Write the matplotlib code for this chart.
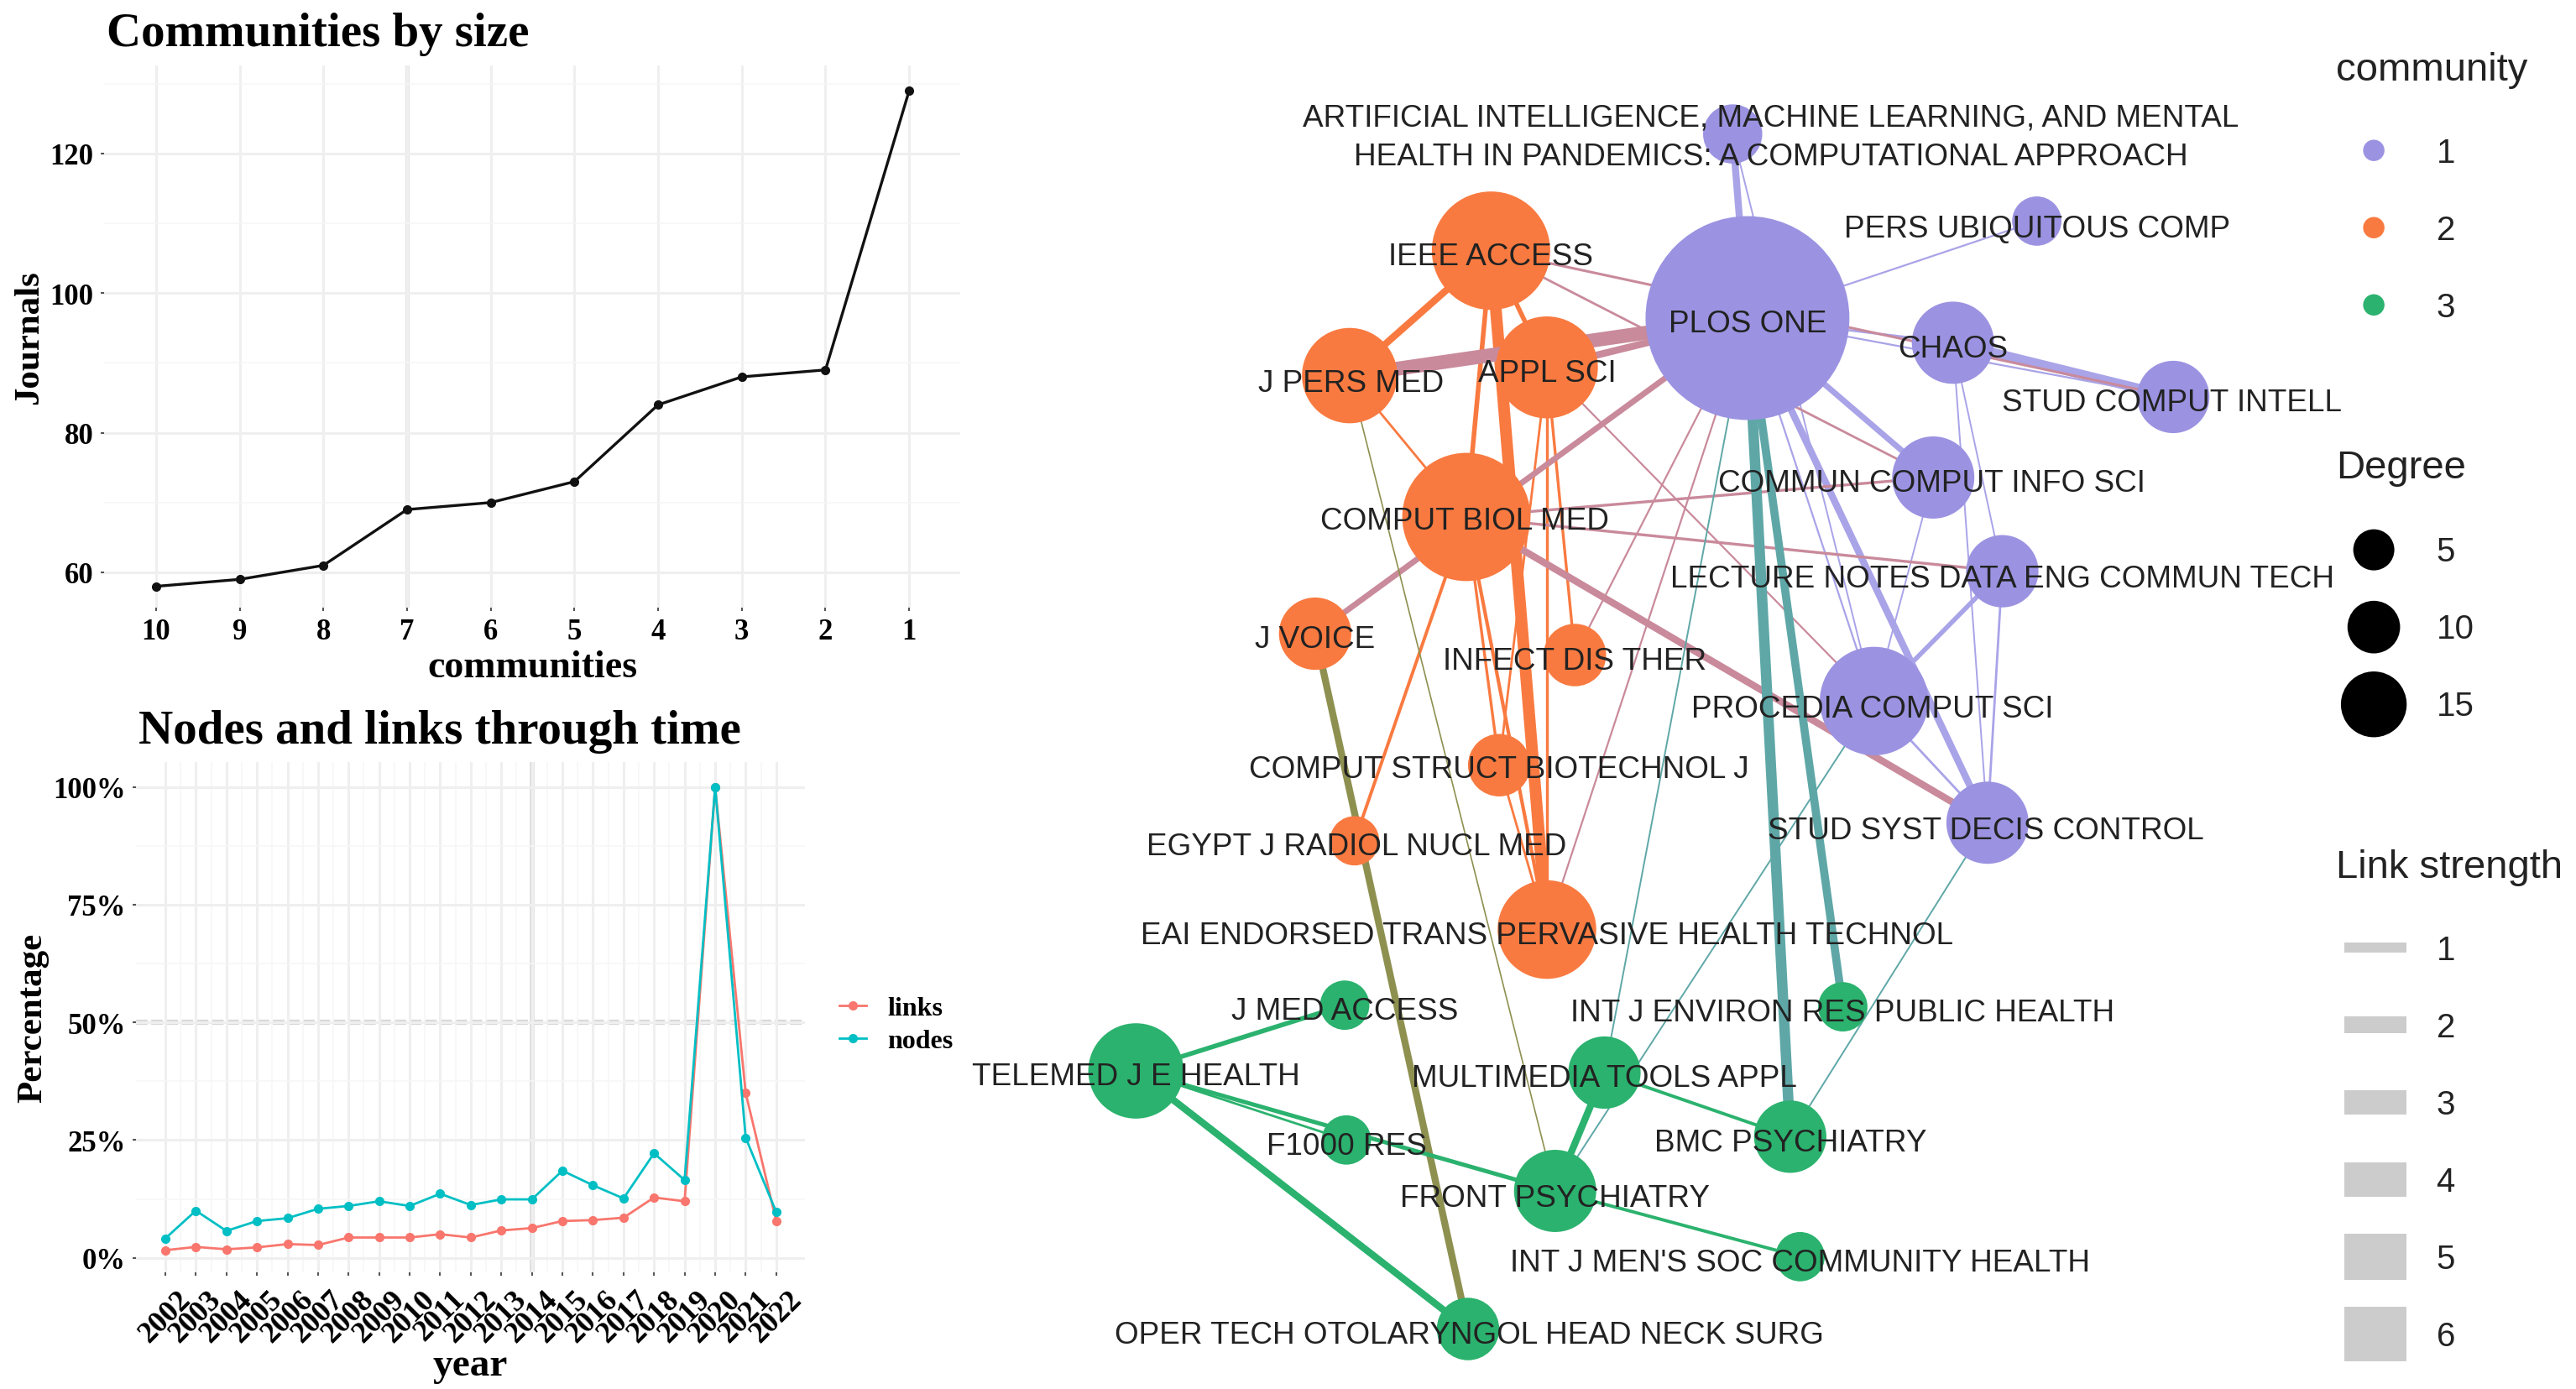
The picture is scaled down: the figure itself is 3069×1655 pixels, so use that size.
import matplotlib
matplotlib.use("Agg")
import matplotlib.pyplot as plt
from matplotlib.patches import Circle, Rectangle

W, H = 3069, 1656
SERIF = "Liberation Serif"
SANS = "Liberation Sans"
GRID = "#efefef"

# communities by size
comm_labels = ["10", "9", "8", "7", "6", "5", "4", "3", "2", "1"]
comm_journals = [58, 59, 61, 69, 70, 73, 84, 88, 89, 129]

# nodes and links through time
years = list(range(2002, 2023))
links_pct = [1.6, 2.3, 1.8, 2.2, 2.9, 2.7, 4.3, 4.3, 4.3, 5.0, 4.3, 5.8, 6.3, 7.8, 8.0, 8.5, 12.8, 12.0, 100, 35, 7.8]
nodes_pct = [4.1, 10, 5.7, 7.8, 8.4, 10.4, 11, 12, 11, 13.6, 11.2, 12.4, 12.4, 18.5, 15.4, 12.6, 22.2, 16.5, 100, 25.5, 9.7]

# network: node layout
journals = ["AI", "PLOS", "UBIQ", "CHAOS", "INTELL", "COMMUN", "LECTURE", "PROCEDIA", "SYST",
            "IEEE", "APPL", "PERS", "BIOL", "VOICE", "INFECT", "STRUCT", "EGYPT", "EAI",
            "MED", "ENVIRON", "TELEMED", "MULTI", "F1000", "BMC", "FRONT", "MEN", "OPER"]
node_x = [1054, 1063, 1239, 1188, 1322, 1176, 1218, 1140, 1209,
          907, 941, 821, 892, 800, 958, 912, 824, 941,
          818, 1121, 691, 976, 819, 1089, 946, 1095, 893]
node_y = [82, 194, 135, 209, 242, 291, 348, 427, 501,
          153, 224, 229, 315, 386, 399, 466, 512, 566,
          612, 613, 652, 653, 694, 692, 725, 765, 809]
node_r = [18, 62, 15, 25, 22, 25, 22, 33, 25,
          36, 31, 29, 39, 22, 19, 19, 15, 30,
          15, 15, 29, 22, 15, 22, 25, 15, 19]
node_comm = [1] * 9 + [2] * 9 + [3] * 9
node_text = ["ARTIFICIAL INTELLIGENCE, MACHINE LEARNING, AND MENTAL\nHEALTH IN PANDEMICS: A COMPUTATIONAL APPROACH",
             "PLOS ONE", "PERS UBIQUITOUS COMP", "CHAOS", "STUD COMPUT INTELL", "COMMUN COMPUT INFO SCI",
             "LECTURE NOTES DATA ENG COMMUN TECH", "PROCEDIA COMPUT SCI", "STUD SYST DECIS CONTROL",
             "IEEE ACCESS", "APPL SCI", "J PERS MED", "COMPUT BIOL MED", "J VOICE", "INFECT DIS THER",
             "COMPUT STRUCT BIOTECHNOL J", "EGYPT J RADIOL NUCL MED", "EAI ENDORSED TRANS PERVASIVE HEALTH TECHNOL",
             "J MED ACCESS", "INT J ENVIRON RES PUBLIC HEALTH", "TELEMED J E HEALTH", "MULTIMEDIA TOOLS APPL",
             "F1000 RES", "BMC PSYCHIATRY", "FRONT PSYCHIATRY", "INT J MEN'S SOC COMMUNITY HEALTH",
             "OPER TECH OTOLARYNGOL HEAD NECK SURG"]
text_x = [1077, 1063, 1239, 1188, 1321, 1175, 1218, 1139, 1208,
          907, 941, 822, 891, 800, 958, 912, 825, 941,
          818, 1121, 691, 976, 819, 1089, 946, 1095, 894]
text_y = [84, 197.5, 139.5, 212.5, 245.5, 294.5, 352.5, 431.5, 505.5,
          156.5, 227.5, 233.5, 317.5, 389.5, 402.5, 468.5, 515.5, 569.5,
          615.5, 616.5, 655.5, 656.5, 697.5, 695.5, 729.5, 768.5, 812.5]

edges = [
    ("AI", "PLOS", 3), ("AI", "PROCEDIA", 0.7), ("PLOS", "UBIQ", 0.8), ("PLOS", "CHAOS", 1),
    ("PLOS", "INTELL", 0.8), ("CHAOS", "INTELL", 4), ("PLOS", "COMMUN", 2.5), ("PLOS", "PROCEDIA", 0.8),
    ("PLOS", "SYST", 3), ("CHAOS", "LECTURE", 0.7), ("CHAOS", "SYST", 0.7), ("COMMUN", "PROCEDIA", 0.7),
    ("LECTURE", "PROCEDIA", 2), ("LECTURE", "SYST", 1), ("PROCEDIA", "SYST", 1),
    ("IEEE", "PERS", 3), ("IEEE", "APPL", 2), ("IEEE", "BIOL", 2), ("IEEE", "EAI", 5),
    ("APPL", "EAI", 1.2), ("APPL", "STRUCT", 1), ("PERS", "BIOL", 1),
    ("BIOL", "EGYPT", 1.4), ("BIOL", "STRUCT", 1.2), ("BIOL", "EAI", 1.5), ("APPL", "INFECT", 1.2),
    ("STRUCT", "EAI", 1),
    ("PLOS", "PERS", 6), ("PLOS", "APPL", 3), ("PLOS", "VOICE", 2.5), ("BIOL", "COMMUN", 1.2),
    ("BIOL", "LECTURE", 1.2), ("BIOL", "SYST", 3), ("IEEE", "INTELL", 1.1), ("IEEE", "COMMUN", 1),
    ("APPL", "PROCEDIA", 0.8), ("PLOS", "INFECT", 0.8), ("PLOS", "EAI", 0.8),
    ("VOICE", "OPER", 3), ("PERS", "FRONT", 0.6),
    ("PLOS", "BMC", 4.5), ("PLOS", "ENVIRON", 3.5), ("PLOS", "MULTI", 0.7), ("PROCEDIA", "FRONT", 0.7),
    ("SYST", "BMC", 0.7),
    ("TELEMED", "MED", 2), ("TELEMED", "F1000", 1), ("TELEMED", "FRONT", 1.8), ("TELEMED", "OPER", 3),
    ("MULTI", "FRONT", 3), ("MULTI", "BMC", 1.4), ("FRONT", "MEN", 1.4),
]

comm_colors = {1: "#9b93e1", 2: "#f97a40", 3: "#2bb26e"}
edge_colors = {(1, 1): "#a9a3e8", (2, 2): "#f97a40", (3, 3): "#2bb26e",
               (1, 2): "#c98a9b", (1, 3): "#5fa7a7", (2, 3): "#8e9050"}

# legends
legend_comm = [1, 2, 3]
legend_degree = [5, 10, 15]
legend_degree_r = [12.5, 16, 20]
legend_link = [1, 2, 3, 4, 5, 6]
legend_link_h = [6, 10, 15, 21, 28, 33]

plt.rcParams["font.family"] = [SANS, "DejaVu Sans"]
fig = plt.figure(figsize=(W / 100, H / 100), dpi=100)


def add_panel(left, top, right, bottom):
    ax = fig.add_axes([left / W, 1 - bottom / H, (right - left) / W, (bottom - top) / H])
    for s in ax.spines.values():
        s.set_visible(False)
    ax.tick_params(which="major", length=3, width=1.5, color="#555555", pad=6)
    ax.tick_params(which="minor", length=0)
    ax.grid(which="major", color=GRID, lw=2.2)
    ax.grid(which="minor", color="#f6f6f6", lw=1.1)
    ax.set_axisbelow(True)
    return ax


# top left panel
ax1 = add_panel(124, 79, 1144, 725)
xpos = list(range(len(comm_labels)))
ax1.plot(xpos, comm_journals, color="#111111", lw=2.4, marker="o", ms=7)
ax1.set_xlim(-0.62, 9.61)
ax1.set_ylim(54.95, 132.6)
ax1.set_xticks(xpos)
ax1.set_xticklabels(comm_labels, fontfamily=SERIF, fontweight="bold", fontsize=25)
ax1.set_yticks([60, 80, 100, 120])
ax1.set_yticks([70, 90, 110, 130], minor=True)
ax1.tick_params(axis="y", labelsize=25)
for t in ax1.get_yticklabels():
    t.set_fontfamily(SERIF)
    t.set_fontweight("bold")
ax1.axvline(3, color="#e2e2e2", lw=3.5, zorder=0)
ax1.set_xlabel("communities", fontfamily=SERIF, fontweight="bold", fontsize=33, labelpad=3)
ax1.set_ylabel("Journals", fontfamily=SERIF, fontweight="bold", fontsize=31, labelpad=4)
fig.text(127 / W, 1 - 41 / H, "Communities by size", fontfamily=SERIF, fontweight="bold",
         fontsize=41, ha="left", va="center")

# bottom left panel
ax2 = add_panel(162, 909, 959, 1517)
ax2.plot(years, links_pct, color="#f8766d", lw=2, marker="o", ms=7, label="links")
ax2.plot(years, nodes_pct, color="#00bfc4", lw=2, marker="o", ms=7, label="nodes")
ax2.set_xlim(2002 - 0.96, 2022 + 0.94)
ax2.set_ylim(-3.1, 105.3)
ax2.set_xticks(years)
ax2.set_xticks([y + 0.5 for y in years[:-1]], minor=True)
ax2.set_xticklabels(years, rotation=45, ha="center", fontfamily=SERIF, fontweight="bold", fontsize=26)
ax2.tick_params(axis="x", pad=8)
ax2.set_yticks([0, 25, 50, 75, 100])
ax2.set_yticklabels(["0%", "25%", "50%", "75%", "100%"], fontfamily=SERIF, fontweight="bold", fontsize=25)
ax2.set_yticks([12.5, 37.5, 62.5, 87.5], minor=True)
ax2.axhline(50, color="#d9d9d9", lw=4.5, ls=(0, (2.2, 0.7)), zorder=0)
ax2.axvline(2014, color="#dddddd", lw=4, zorder=0)
ax2.set_xlabel("year", fontfamily=SERIF, fontweight="bold", fontsize=34, labelpad=0)
ax2.set_ylabel("Percentage", fontfamily=SERIF, fontweight="bold", fontsize=31, labelpad=3)
ax2.legend(loc="center left", bbox_to_anchor=(1.015, 0.485), frameon=False, handlelength=1.0,
           prop={"family": SERIF, "weight": "bold", "size": 23}, labelspacing=0.3)
fig.text(524 / W, 1 - 872 / H, "Nodes and links through time", fontfamily=SERIF, fontweight="bold",
         fontsize=41, ha="center", va="center")

# network, in the coordinates of the layout lists
net = fig.add_axes([0, 0, 1, 1], facecolor="none")
net.set_xlim(0, 1567)
net.set_ylim(845.5, 0)
net.axis("off")

idx = {name: i for i, name in enumerate(journals)}
for a, b, strength in edges:
    i, j = idx[a], idx[b]
    key = tuple(sorted((node_comm[i], node_comm[j])))
    net.plot([node_x[i], node_x[j]], [node_y[i], node_y[j]], color=edge_colors[key],
             lw=strength * 2.0, solid_capstyle="butt", zorder=1)
for x, y, r, c in zip(node_x, node_y, node_r, node_comm):
    net.add_patch(Circle((x, y), r, color=comm_colors[c], lw=0, zorder=2))
for x, y, s in zip(text_x, text_y, node_text):
    net.text(x, y, s, ha="center", va="center", fontsize=26.6, color="#222222", zorder=3, linespacing=1.42)

# legends
net.text(1421, 43, "community", fontsize=34, va="center", color="#222222")
for k, y in zip(legend_comm, [92, 139, 186]):
    net.add_patch(Circle((1444, y), 6.5, color=comm_colors[k], lw=0))
    net.text(1482, y + 1.5, str(k), fontsize=29, va="center", color="#222222")
net.text(1421, 285, "Degree", fontsize=34, va="center", color="#222222")
for k, r, y in zip(legend_degree, legend_degree_r, [335, 382, 429]):
    net.add_patch(Circle((1444, y), r, color="black", lw=0))
    net.text(1482, y + 1, str(k), fontsize=29, va="center", color="#222222")
net.text(1421, 528, "Link strength", fontsize=34, va="center", color="#222222")
for k, h, y in zip(legend_link, legend_link_h, [577, 624, 671, 718, 765, 812]):
    net.add_patch(Rectangle((1426, y - h / 2), 38, h, color="#cccccc", lw=0))
    net.text(1482, y + 1.5, str(k), fontsize=29, va="center", color="#222222")

fig.savefig("out.png", dpi=100)
